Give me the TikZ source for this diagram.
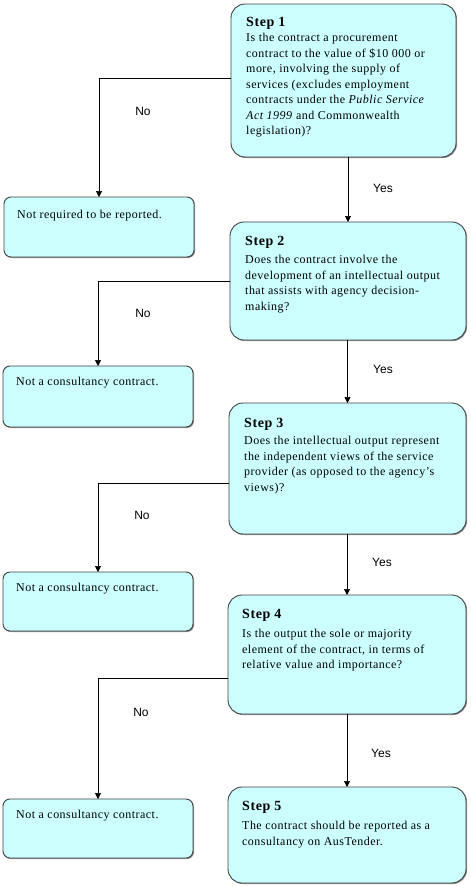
\documentclass[tikz,border=0pt]{standalone}
\usepackage{fontspec}
\setmainfont{Liberation Serif}[LetterSpace=4]
\newfontfamily\lsans{Liberation Sans}
\usetikzlibrary{arrows.meta,calc,shadows}
\definecolor{boxcyan}{HTML}{CCFFFF}
\begin{document}
\begin{tikzpicture}[x=1pt,y=-1pt,
  boxbase/.style={draw=black!75, line width=0.9pt, fill=boxcyan, inner sep=0pt, outer sep=0pt,
    anchor=north west, drop shadow={shadow xshift=1pt, shadow yshift=-1pt, fill=black!45, opacity=1}},
  stepbox/.style={boxbase, rounded corners=14pt},
  endbox/.style={boxbase, rounded corners=7pt},
  headtext/.style={anchor=base west, inner sep=0pt, font=\fontsize{14}{16}\selectfont\bfseries},
  bodytext/.style={anchor=north west, inner sep=0pt, align=left, font=\fontsize{12}{15.5}\selectfont},
  lbl/.style={inner sep=0pt, font=\lsans\fontsize{12}{14}\selectfont},
  conn/.style={draw=black, line width=0.7pt},
  arr/.style={conn, -{Triangle[length=6pt,width=6pt]}}
]
\useasboundingbox (0,0) rectangle (471,886);

% step boxes
\node[stepbox, minimum width=225pt, minimum height=153pt] (s1) at (231,4) {};
\node[stepbox, minimum width=236pt, minimum height=118pt] (s2) at (230,222) {};
\node[stepbox, minimum width=237pt, minimum height=131pt] (s3) at (229,403) {};
\node[stepbox, minimum width=238pt, minimum height=119pt] (s4) at (228,595) {};
\node[stepbox, minimum width=238pt, minimum height=96pt] (s5) at (228,787) {};

% end boxes
\node[endbox, minimum width=190pt, minimum height=60pt] (n1) at (4,197) {};
\node[endbox, minimum width=190pt, minimum height=61pt] (n2) at (3,366) {};
\node[endbox, minimum width=190pt, minimum height=59pt] (n3) at (3,572) {};
\node[endbox, minimum width=190pt, minimum height=59pt] (n4) at (3,799) {};

% step texts
\node[headtext] (h1) at ($(s1.north west)+(15,23)$) {Step 1};
\node[bodytext] (b1) at ($(s1.north west)+(15,29)$) {Is the contract a procurement\\contract to the value of \$10 000 or\\more, involving the supply of\\services (excludes employment\\contracts under the \textit{Public Service}\\\textit{Act 1999} and Commonwealth\\legislation)?};

\node[headtext] (h2) at ($(s2.north west)+(15,23)$) {Step 2};
\node[bodytext] (b2) at ($(s2.north west)+(15,33)$) {Does the contract involve the\\development of an intellectual output\\that assists with agency decision-\\making?};

\node[headtext] (h3) at ($(s3.north west)+(15,24)$) {Step 3};
\node[bodytext] (b3) at ($(s3.north west)+(15,33)$) {Does the intellectual output represent\\the independent views of the service\\provider (as opposed to the agency’s\\views)?};

\node[headtext] (h4) at ($(s4.north west)+(14,23)$) {Step 4};
\node[bodytext] (b4) at ($(s4.north west)+(14,34)$) {Is the output the sole or majority\\element of the contract, in terms of\\relative value and importance?};

\node[headtext] (h5) at ($(s5.north west)+(14,23)$) {Step 5};
\node[bodytext] (b5) at ($(s5.north west)+(14,34)$) {The contract should be reported as a\\consultancy on AusTender.};

% end texts
\node[bodytext] (e1) at ($(n1.north west)+(13,13)$) {Not required to be reported.};
\node[bodytext] (e2) at ($(n2.north west)+(13,11)$) {Not a consultancy contract.};
\node[bodytext] (e3) at ($(n3.north west)+(13,11)$) {Not a consultancy contract.};
\node[bodytext] (e4) at ($(n4.north west)+(13,11)$) {Not a consultancy contract.};

% No connectors
\coordinate (c1) at ($(s1.west)+(0,-2)$);
\coordinate (c2) at (s2.west);
\coordinate (c3) at ($(s3.west)+(0,15)$);
\coordinate (c4) at ($(s4.west)+(0,24)$);
\draw[arr] (c1) -- (n1.north |- c1) -- (n1.north);
\draw[arr] (c2) -- (n2.north |- c2) -- (n2.north);
\draw[arr] (c3) -- (n3.north |- c3) -- (n3.north);
\draw[arr] (c4) -- (n4.north |- c4) -- (n4.north);

% Yes connectors
\draw[arr] (s2.north |- s1.south) -- (s2.north);
\draw[arr] (s3.north |- s2.south) -- (s3.north);
\draw[arr] (s4.north |- s3.south) -- (s4.north);
\draw[arr] (s5.north |- s4.south) -- (s5.north);

% labels
\node[lbl] (no1) at (143,111) {No};
\node[lbl] (no2) at (143,313) {No};
\node[lbl] (no3) at (142,515) {No};
\node[lbl] (no4) at (141,712) {No};
\node[lbl] (y1) at (383,188) {Yes};
\node[lbl] (y2) at (383,369) {Yes};
\node[lbl] (y3) at (382,562) {Yes};
\node[lbl] (y4) at (381,753) {Yes};
\end{tikzpicture}
\end{document}
